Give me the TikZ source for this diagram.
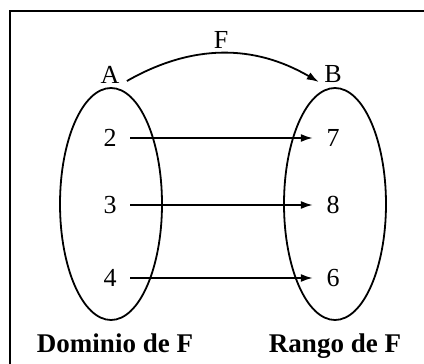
\documentclass[tikz,border=0pt]{standalone}
\usepackage{fontspec}
\setmainfont{Liberation Serif}
\usetikzlibrary{positioning,shapes.geometric,arrows.meta}

\begin{document}
\begin{tikzpicture}[
    x=1pt, y=-1pt,
    setbox/.style={
        ellipse,draw,line width=1.8pt,
        minimum width=102pt,
        minimum height=232pt
    },
    num/.style={
        font=\fontsize{26}{30}\selectfont,
        minimum width=40pt,
        inner sep=0pt
    },
    letter/.style={font=\fontsize{26}{30}\selectfont},
    caption/.style={font=\fontsize{27}{30}\selectfont\bfseries,anchor=base},
    arrow/.style={-{Latex[length=12pt,width=8pt]},line width=1.8pt}
]
\useasboundingbox (0,0) rectangle (424,364);
\draw[line width=2pt] (10,440) |- (500,11);

\node[setbox] (dom) at (111,204) {};
\node[setbox] (ran) at (335,204) {};

\node[letter] (A) at (110,75) {A};
\node[letter] (B) at (333,74) {B};
\node[letter] (F) at (221,40) {F};

\node[num] (n2) at (110,138) {2};
\node[num] (n3) at (110,205) {3};
\node[num] (n4) at (110,278) {4};
\node[num] (n7) at (333,138) {7};
\node[num] (n8) at (333,205) {8};
\node[num] (n6) at (333,278) {6};

\node[caption] (dlabel) at (115,352) {Dominio de F};
\node[caption] (rlabel) at (335,352) {Rango de F};

\draw[arrow] ([xshift=4pt,yshift=-6pt]A.east) to[bend left=30] ([xshift=-2pt,yshift=-8pt]B.west);
\draw[arrow] (n2) -- (n7);
\draw[arrow] (n3) -- (n8);
\draw[arrow] (n4) -- (n6);
\end{tikzpicture}
\end{document}
